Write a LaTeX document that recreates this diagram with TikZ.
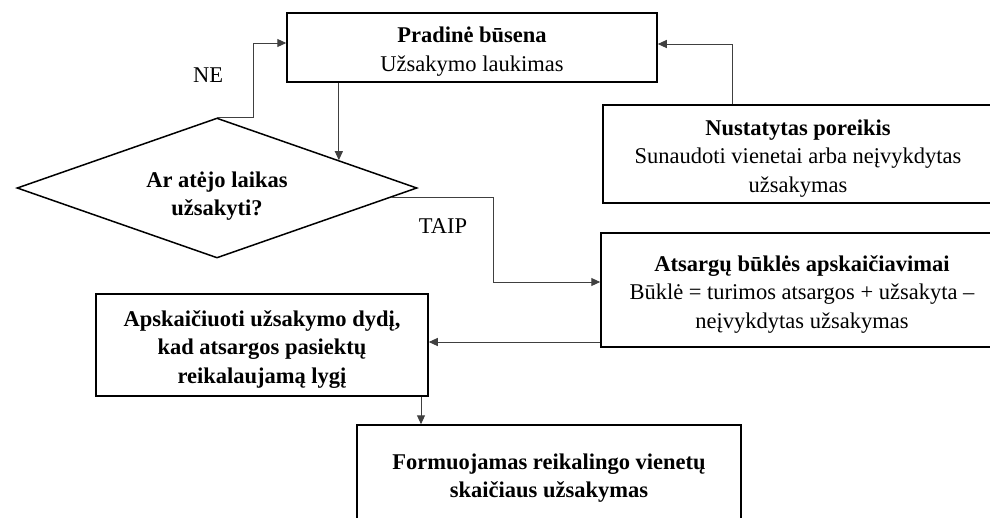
\documentclass[tikz,border=0pt]{standalone}
\usepackage{fontspec}
\setmainfont{Liberation Serif}
\usetikzlibrary{arrows.meta,shapes.geometric,calc}
\newcommand{\myup}{\rule{0pt}{24pt}}
\newcommand{\mydup}{\rule{0pt}{31.5pt}}
\begin{document}
\begin{tikzpicture}[x=1pt,y=-1pt,
  fnt/.style={font=\fontsize{22.5}{28.5}\selectfont},
  box/.style={draw=black,line width=1.5pt,fnt,align=center,inner sep=0pt},
  decision/.style={diamond,draw=black,line width=1.5pt,fnt,align=center,inner sep=0pt,shape aspect=2.86},
  conn/.style={draw=black!75,line width=1pt,-{Triangle[length=9pt,width=8pt]}},
  lbl/.style={fnt}]
\useasboundingbox (0,0) rectangle (990,517);
\clip (0,0) rectangle (990,517);

\node[box,minimum width=370pt,minimum height=69pt] (b1) at (472,47.5)
  {\myup\textbf{Pradinė būsena}\\Užsakymo laukimas};
\node[box,minimum width=390pt,minimum height=98pt] (b2) at (798,154)
  {\myup\textbf{Nustatytas poreikis}\\Sunaudoti vienetai arba neįvykdytas\\užsakymas};
\node[decision,minimum width=400pt,minimum height=140pt] (d) at (217,188)
  {\mydup\textbf{Ar atėjo laikas}\\\textbf{užsakyti?}};
\node[box,minimum width=402pt,minimum height=114pt] (b3) at (802,290)
  {\myup\textbf{Atsargų būklės apskaičiavimai}\\Būklė = turimos atsargos + užsakyta –\\neįvykdytas užsakymas};
\node[box,minimum width=332pt,minimum height=102pt] (b4) at (262,345)
  {\myup\textbf{Apskaičiuoti užsakymo dydį,}\\\textbf{kad atsargos pasiektų}\\\textbf{reikalaujamą lygį}};
\node[box,minimum width=384pt,minimum height=98pt] (b5) at (549,474)
  {\myup\textbf{Formuojamas reikalingo vienetų}\\\textbf{skaičiaus užsakymas}};

\node[lbl] (ne) at (208,75.5) {NE};
\node[lbl] (taip) at (443,226.5) {TAIP};

% NE branch
\coordinate (nj) at (253,43);
\draw[conn] (d.north) -| (nj) -- (nj -| b1.west);

% start -> decision
\coordinate (dA) at ($(d.north)!0.607!(d.east)$);
\draw[conn] (b1.south -| dA) -- (dA);

% TAIP branch
\coordinate (dB) at ($(d.east)!0.134!(d.south)$);
\coordinate (tj) at (493,282);
\draw[conn] (dB) -| (tj) -- (tj -| b3.west);

% need -> start
\coordinate (pj) at (732,44);
\draw[conn] (b2.north -| pj) |- (b1.east |- pj);

% status -> compute
\coordinate (cj) at (500,342);
\draw[conn] (cj -| b3.west) -- (cj -| b4.east);

% compute -> order
\coordinate (oj) at (421,400);
\draw[conn] (b4.south -| oj) -- (b5.north -| oj);
\end{tikzpicture}
\end{document}
